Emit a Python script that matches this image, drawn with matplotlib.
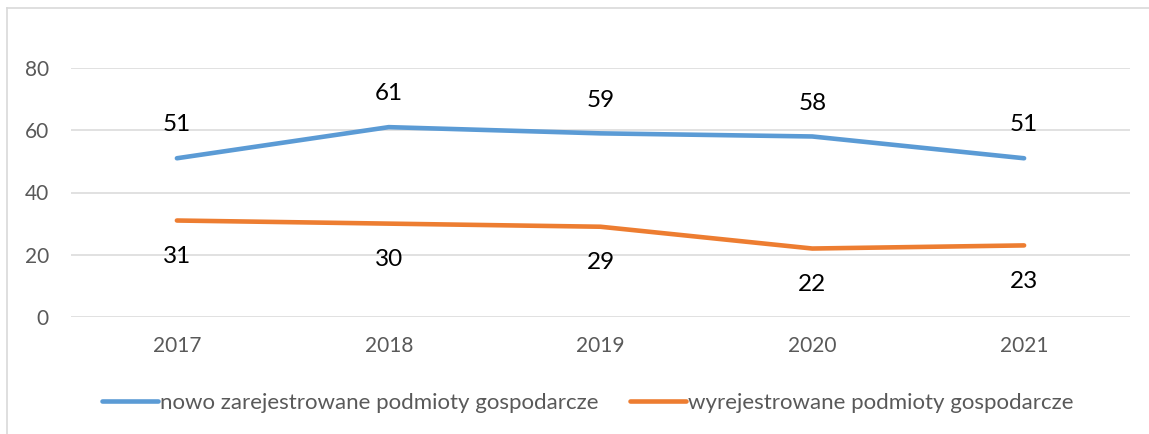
import matplotlib
matplotlib.use("Agg")
import matplotlib.pyplot as plt
from matplotlib.lines import Line2D

years = ["2017", "2018", "2019", "2020", "2021"]
registered = [51, 61, 59, 58, 51]
deregistered = [31, 30, 29, 22, 23]
series_names = ["nowo zarejestrowane podmioty gospodarcze", "wyrejestrowane podmioty gospodarcze"]
yticks = [0, 20, 40, 60, 80]

BLUE = "#5B9BD5"
ORANGE = "#ED7D31"
GREY = "#595959"

plt.rcParams['font.family'] = ['Lato', 'DejaVu Sans']

fig = plt.figure(figsize=(11.49, 4.34), dpi=100)
ax = fig.add_axes([71/1149, 1-317/434, (1130-71)/1149, (317-68)/434])

x = list(range(len(years)))
ax.plot(x, registered, color=BLUE, lw=3.3, solid_capstyle='round', solid_joinstyle='round', zorder=3)
ax.plot(x, deregistered, color=ORANGE, lw=3.3, solid_capstyle='round', solid_joinstyle='round', zorder=3)

for xi, v in zip(x, registered):
    ax.annotate(str(v), (xi, v), xytext=(0, 24), textcoords='offset points',
                ha='center', va='center', fontsize=17.5, color='black', annotation_clip=False)
for xi, v in zip(x, deregistered):
    ax.annotate(str(v), (xi, v), xytext=(0, -26), textcoords='offset points',
                ha='center', va='center', fontsize=17.5, color='black', annotation_clip=False)

ax.set_xlim(-0.5, len(years) - 0.5)
ax.set_ylim(0, 80)
ax.set_yticks(yticks)
ax.set_xticks(x)
ax.set_xticklabels(years)
ax.tick_params(axis='both', length=0, labelsize=15, labelcolor=GREY)
ax.tick_params(axis='y', pad=16)
ax.tick_params(axis='x', pad=14)
ax.grid(axis='y', color='#D9D9D9', lw=1.1)
ax.set_axisbelow(True)
for s in ax.spines.values():
    s.set_visible(False)

# chart border (top and left visible)
fig.add_artist(Line2D([7/1149, 7/1149], [0, 1-8/434], color='#D9D9D9', lw=1.2))
fig.add_artist(Line2D([7/1149, 1], [1-8/434, 1-8/434], color='#D9D9D9', lw=1.2))

handles = [Line2D([], [], color=BLUE, lw=3.3, solid_capstyle='round'),
           Line2D([], [], color=ORANGE, lw=3.3, solid_capstyle='round')]
leg = fig.legend(handles, series_names, loc='center', bbox_to_anchor=(588/1149, 1-403/434),
                 ncol=2, frameon=False, fontsize=16, handlelength=2.5, handletextpad=0.12,
                 columnspacing=1.4, labelcolor=GREY)

fig.savefig("out.png", dpi=100)
